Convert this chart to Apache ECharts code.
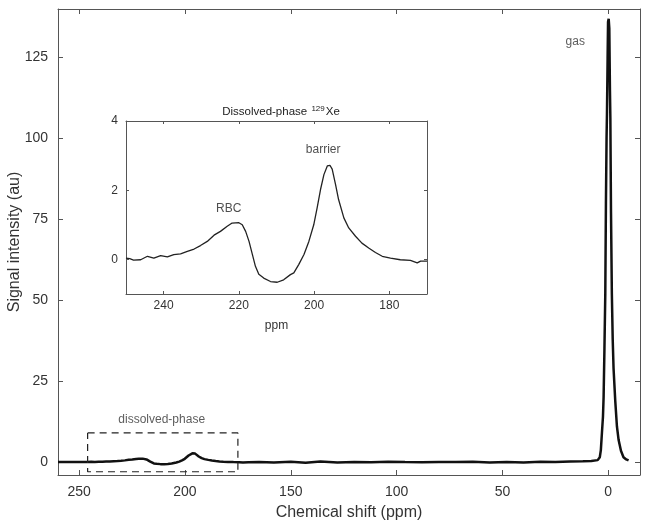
<!DOCTYPE html>
<html>
<head>
    <meta charset="utf-8">
    <title>Xe spectrum</title>
    <script src="https://cdn.jsdelivr.net/npm/echarts@6/dist/echarts.min.js"></script>
    <style>
        html, body { margin: 0; padding: 0; background: #fff; }
        #chartmain { width: 649px; height: 530px; }
    </style>
</head>
<body>
<div id="chartmain"></div>
<script type="text/javascript">
    // axis ticks
    var shiftTicks = [0, 50, 100, 150, 200, 250];
    var intensityTicks = [0, 25, 50, 75, 100, 125];
    var insetShiftTicks = [180, 200, 220, 240];
    var insetIntensityTicks = [0, 2, 4];

    // baseline left of the dissolved region (ppm, au)
    var leftShift = [260, 257, 254, 251];
    var leftSignal = [0.0, 0.02, -0.02, 0.03];

    // dissolved-phase region (ppm, au)
    var dissolvedShift = [250, 249, 248, 246.1, 244.3, 242.6, 240.8, 239.0, 237.3, 235.5, 233.7, 231.9, 230.2, 228.4, 226.6,
        224.9, 223.1, 221.8, 220.0, 219.1, 218.2, 217.3, 216.4, 215.6, 214.7, 213.4, 211.6, 209.8, 208.1, 206.3,
        205.4, 204.1, 202.7, 201.4, 200.1, 199.2, 198.3, 197.4, 196.5, 195.8, 195.2, 194.3, 193.5, 192.1, 190.8,
        189.0, 187.3, 185.5, 183.7, 181.9, 179.7, 177.1, 174.4, 172.6, 171.7, 170];
    var dissolvedSignal = [0.04, 0.02, -0.02, -0.01, 0.09, 0.04, 0.11, 0.07, 0.14, 0.16, 0.23, 0.30, 0.40, 0.52, 0.70,
        0.81, 0.96, 1.05, 1.06, 1.0, 0.81, 0.52, 0.14, -0.2, -0.43, -0.54, -0.64, -0.66, -0.59, -0.44,
        -0.39, -0.15, 0.14, 0.52, 1.0, 1.49, 2.02, 2.45, 2.70, 2.72, 2.61, 2.16, 1.73, 1.20, 0.91,
        0.67, 0.47, 0.33, 0.20, 0.09, 0.04, -0.01, -0.03, -0.1, -0.05, -0.05];

    // flat baseline between dissolved and gas (ppm, au)
    var midShift = [165, 158, 150, 143, 136, 128, 120, 112, 104, 96, 88, 80, 72, 64, 56, 48, 40, 32, 25, 18, 12, 8];
    var midSignal = [0.05, -0.1, 0.1, -0.2, 0.15, -0.1, 0.05, -0.05, 0.1, 0.0, -0.05, 0.05, 0.0, 0.1, -0.1, 0.05,
        -0.15, 0.1, 0.0, 0.2, 0.25, 0.3];

    // gas peak (ppm, au)
    var gasShift = [5, 4, 3.5, 3, 2.5, 2.2, 1.8, 1.4, 1.1, 0.8, 0.6, 0.3, 0.1, -0.2, -0.5, -0.8, -1.0, -1.3, -1.7,
        -2.1, -2.5, -3.3, -4.1, -4.9, -6, -7.2, -8.5, -9.6];
    var gasSignal = [0.6, 1.5, 3.7, 8.9, 14, 20, 35, 52, 80, 100, 108, 125, 136, 137, 134, 115, 106, 77, 52,
        38, 29, 19, 11, 6.8, 3.5, 1.5, 0.8, 0.5];

    // dashed box marking the dissolved-phase region
    var boxShift = [246, 175, 175, 246, 246];
    var boxSignal = [9, 9, -3, -3, 9];

    // text annotations
    var mainNotes = [[15.6, 130, 'gas'], [211, 13, 'dissolved-phase']];
    var insetNotes = [[222.7, 1.48, 'RBC'], [197.6, 3.16, 'barrier']];

    function pairs(xs, ys) {
        var out = [];
        for (var i = 0; i < xs.length; i++) {
            out.push([xs[i], ys[i]]);
        }
        return out;
    }

    var mainData = pairs(leftShift, leftSignal)
        .concat(pairs(dissolvedShift, dissolvedSignal))
        .concat(pairs(midShift, midSignal))
        .concat(pairs(gasShift, gasSignal));

    var axisColor = '#555';
    var textColor = '#333';
    var font = 'Liberation Sans, Arial, sans-serif';

    function boxAxis(opt) {
        // MATLAB-like axis: box line, inward ticks at fixed values
        var a = {
            type: 'value',
            gridIndex: opt.grid,
            position: opt.position,
            min: opt.min,
            max: opt.max,
            inverse: !!opt.inverse,
            splitLine: {show: false},
            axisLine: {show: true, onZero: false, lineStyle: {color: axisColor, width: 1}},
            axisTick: {show: true, inside: true, length: opt.tickLen || 5, customValues: opt.ticks,
                lineStyle: {color: axisColor}},
            axisLabel: {show: !!opt.labels, customValues: opt.ticks, color: textColor,
                fontFamily: font, fontSize: opt.fontSize || 13, margin: opt.margin || 8}
        };
        if (opt.name) {
            a.name = opt.name;
            a.nameLocation = 'middle';
            a.nameGap = opt.nameGap;
            a.nameMoveOverlap = false;
            a.nameTextStyle = {color: textColor, fontFamily: font, fontSize: opt.nameSize || 15};
        }
        return a;
    }

    var myChart = echarts.init(document.getElementById('chartmain'));

    var option = {
        animation: false,
        backgroundColor: '#fff',
        title: {
            text: '{a|Dissolved-phase }{s|129}{a|Xe}',
            left: 276,
            top: 100,
            textAlign: 'center',
            textStyle: {
                rich: {
                    a: {fontFamily: font, fontSize: 11.5, fontWeight: 'normal', color: '#222', verticalAlign: 'bottom'},
                    s: {fontFamily: font, fontSize: 8, fontWeight: 'normal', color: '#222', verticalAlign: 'top',
                        padding: [0, 1, 5, 1]}
                }
            }
        },
        grid: [
            {left: 58, right: 9, top: 9, bottom: 55, outerBoundsMode: 'none', containLabel: false},
            {left: 126, top: 121, width: 301, height: 173, outerBoundsMode: 'none', containLabel: false}
        ],
        xAxis: [
            boxAxis({grid: 0, position: 'bottom', min: -15, max: 260, inverse: true, ticks: shiftTicks,
                labels: true, fontSize: 14, margin: 10, name: 'Chemical shift (ppm)', nameGap: 30, nameSize: 16}),
            boxAxis({grid: 0, position: 'top', min: -15, max: 260, inverse: true, ticks: shiftTicks}),
            boxAxis({grid: 1, position: 'bottom', min: 170, max: 250, inverse: true, ticks: insetShiftTicks,
                labels: true, fontSize: 12, margin: 6, tickLen: 3, name: 'ppm', nameGap: 26, nameSize: 12}),
            boxAxis({grid: 1, position: 'top', min: 170, max: 250, inverse: true, ticks: insetShiftTicks, tickLen: 3})
        ],
        yAxis: [
            boxAxis({grid: 0, position: 'left', min: -4, max: 140, ticks: intensityTicks,
                labels: true, fontSize: 14, margin: 10, name: 'Signal intensity (au)', nameGap: 35, nameSize: 16}),
            boxAxis({grid: 0, position: 'right', min: -4, max: 140, ticks: intensityTicks}),
            boxAxis({grid: 1, position: 'left', min: -1, max: 4, ticks: insetIntensityTicks,
                labels: true, fontSize: 12, margin: 8, tickLen: 3}),
            boxAxis({grid: 1, position: 'right', min: -1, max: 4, ticks: insetIntensityTicks, tickLen: 3})
        ],
        series: [
            {
                name: 'spectrum',
                type: 'line',
                xAxisIndex: 0,
                yAxisIndex: 0,
                data: mainData,
                symbol: 'none',
                lineStyle: {color: '#111', width: 2.5}
            },
            {
                name: 'box',
                type: 'line',
                xAxisIndex: 0,
                yAxisIndex: 0,
                data: pairs(boxShift, boxSignal),
                symbol: 'none',
                lineStyle: {color: '#222', width: 1.2, type: [7, 5]}
            },
            {
                name: 'inset',
                type: 'line',
                xAxisIndex: 2,
                yAxisIndex: 2,
                data: pairs(dissolvedShift, dissolvedSignal),
                symbol: 'none',
                lineStyle: {color: '#222', width: 1.3}
            },
            {
                name: 'mainNotes',
                type: 'scatter',
                xAxisIndex: 0,
                yAxisIndex: 0,
                data: mainNotes,
                symbolSize: 0,
                label: {show: true, position: 'inside', formatter: function (p) { return p.value[2]; },
                    color: '#333', fontFamily: font, fontSize: 12}
            },
            {
                name: 'insetNotes',
                type: 'scatter',
                xAxisIndex: 2,
                yAxisIndex: 2,
                data: insetNotes,
                symbolSize: 0,
                label: {show: true, position: 'inside', formatter: function (p) { return p.value[2]; },
                    color: '#222', fontFamily: font, fontSize: 12}
            }
        ]
    };
    myChart.setOption(option);
</script>
</body>
</html>
